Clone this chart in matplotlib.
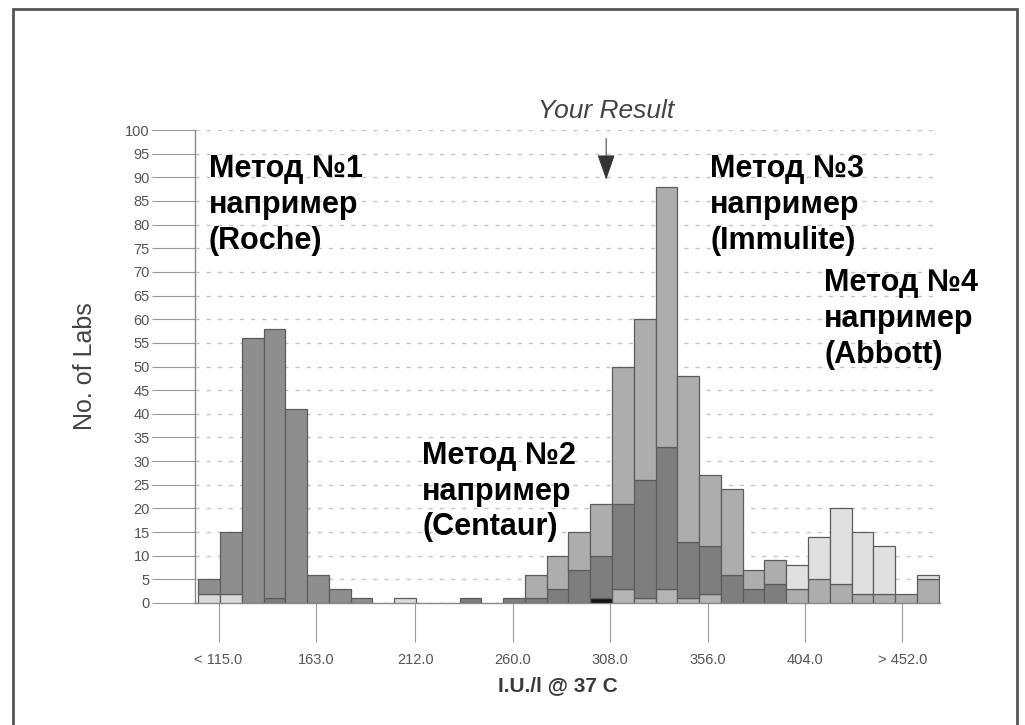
import numpy as np
import matplotlib.pyplot as plt
from matplotlib.patches import Rectangle

plt.rcParams['font.family'] = ['Liberation Sans', 'DejaVu Sans']

# histogram bins (I.U./l), 34 bins
bin_start = 105.0
bin_width = 10.73
n_bins = 34

# counts of labs per bin, one list per stacked group (bottom to top)
light_base = [2, 2, 0, 0, 0, 0, 0, 0, 0, 1, 0, 0, 0, 0, 0, 0, 0,
              0, 0, 0, 0, 0, 0, 0, 0, 0, 0, 0, 0, 0, 0, 0, 0, 0]
pale = [0, 0, 0, 0, 0, 0, 0, 0, 0, 0, 0, 0, 0, 0, 0, 0, 0,
        0, 0, 3, 1, 3, 1, 2, 0, 0, 0, 0, 0, 0, 0, 0, 0, 0]
black = [0, 0, 0, 0, 0, 0, 0, 0, 0, 0, 0, 0, 0, 0, 0, 0, 0,
         0, 1, 0, 0, 0, 0, 0, 0, 0, 0, 0, 0, 0, 0, 0, 0, 0]
centaur = [0, 0, 0, 1, 0, 0, 0, 0, 0, 0, 0, 0, 1, 0, 1, 1, 3,
           7, 9, 18, 25, 30, 12, 10, 6, 3, 4, 0, 0, 0, 0, 0, 0, 0]
roche = [3, 13, 56, 57, 41, 6, 3, 1, 0, 0, 0, 0, 0, 0, 0, 0, 0,
         0, 0, 0, 0, 0, 0, 0, 0, 0, 0, 0, 0, 0, 0, 0, 0, 0]
immulite = [0, 0, 0, 0, 0, 0, 0, 0, 0, 0, 0, 0, 0, 0, 0, 5, 7,
            8, 11, 29, 34, 55, 35, 15, 18, 4, 5, 3, 5, 4, 2, 2, 2, 5]
abbott = [0, 0, 0, 0, 0, 0, 0, 0, 0, 0, 0, 0, 0, 0, 0, 0, 0,
          0, 0, 0, 0, 0, 0, 0, 0, 0, 0, 5, 9, 16, 13, 10, 0, 1]

groups = [light_base, pale, black, centaur, roche, immulite, abbott]
colors = ['#d9d9d9', '#b4b4b4', '#151515', '#7e7e7e', '#8e8e8e', '#adadad', '#e0e0e0']

tick_values = [115, 163, 212, 260, 308, 356, 404, 452]
tick_labels = ['< 115.0', '163.0', '212.0', '260.0', '308.0', '356.0', '404.0', '> 452.0']
your_result = 306

W, H = 1025, 725


def fx(x):
    return x / W


def fy(y):
    return 1 - y / H


fig = plt.figure(figsize=(W / 100, H / 100), dpi=100)
ax = fig.add_axes([fx(195), fy(603), fx(940) - fx(195), fy(130) - fy(603)])

lefts = bin_start + bin_width * np.arange(n_bins)
bottom = np.zeros(n_bins)
for vals, col in zip(groups, colors):
    vals = np.array(vals, dtype=float)
    m = vals > 0
    ax.bar(lefts[m], vals[m], width=bin_width, bottom=bottom[m], align='edge',
           color=col, edgecolor='#5c5c5c', linewidth=0.9, zorder=3)
    bottom += vals

ax.set_xlim(103.4, 470.5)
ax.set_ylim(0, 100)
ax.set_yticks(np.arange(0, 101, 5))
ax.set_xticks(tick_values)
ax.set_xticklabels(tick_labels)

ax.yaxis.grid(True, linestyle=(0, (3, 5)), color='#c4c4c4', linewidth=1.0)
ax.set_axisbelow(True)
for s in ['top', 'right']:
    ax.spines[s].set_visible(False)
for s in ['left', 'bottom']:
    ax.spines[s].set_color('#8a8a8a')
    ax.spines[s].set_linewidth(1.0)

ax.tick_params(axis='y', length=31, width=0.8, color='#9a9a9a', pad=1.5,
               labelsize=10.5, labelcolor='#555555')
ax.tick_params(axis='x', length=28, width=0.8, color='#9a9a9a', pad=8,
               labelsize=10.5, labelcolor='#555555')

fig.text(fx(85), fy(366), 'No. of Labs', rotation=90, ha='center', va='center',
         fontsize=18, color='#444444')
fig.text(fx(558), fy(686), 'I.U./l @ 37 C', ha='center', va='center',
         fontsize=15, color='#3a3a3a', fontweight='bold')

ax.annotate('Your Result', xy=(your_result, 89.5), xytext=(your_result, 104.0),
            textcoords='data', ha='center', va='center', fontsize=19,
            fontstyle='italic', color='#444444', annotation_clip=False,
            arrowprops=dict(arrowstyle='-|>,head_length=0.8,head_width=0.28',
                            mutation_scale=20, color='#333333', lw=0.7,
                            shrinkA=9, shrinkB=0))

labels = [
    ('Метод №1\nнапример\n(Roche)', 209, 154),
    ('Метод №2\nнапример\n(Centaur)', 422, 441),
    ('Метод №3\nнапример\n(Immulite)', 710, 154),
    ('Метод №4\nнапример\n(Abbott)', 824, 268),
]
for txt, x, y in labels:
    fig.text(fx(x), fy(y), txt, ha='left', va='top', fontsize=22,
             fontweight='bold', color='black', linespacing=1.25)

fig.patches.append(Rectangle((fx(13), -0.02), fx(1017) - fx(13), fy(9) + 0.02,
                             transform=fig.transFigure, fill=False,
                             edgecolor='#555555', linewidth=2))

fig.savefig('out.png', dpi=100)
